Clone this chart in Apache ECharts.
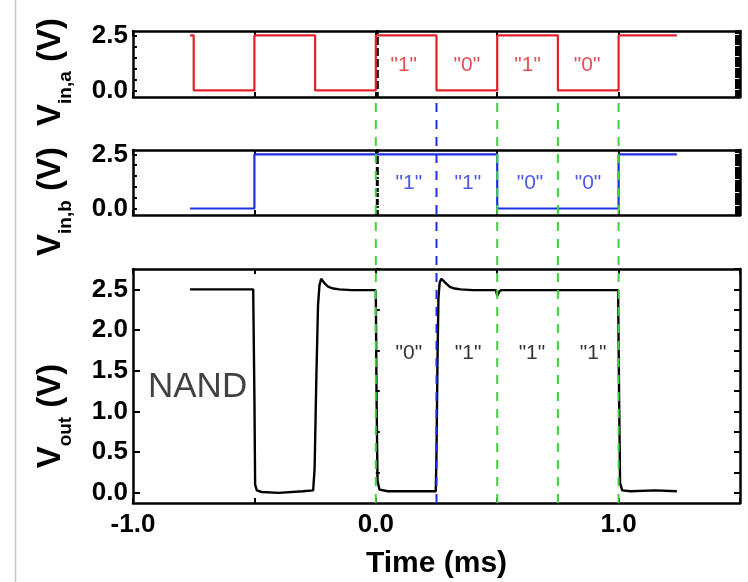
<!DOCTYPE html>
<html><head><meta charset="utf-8">
<script src="https://cdn.jsdelivr.net/npm/echarts@6/dist/echarts.min.js"></script>
<style>html,body{margin:0;padding:0;background:#fff}#c{width:748px;height:582px}</style>
</head><body><div id="c"></div>
<script>
// ---------------- data ----------------
const vinATime = [-0.765, -0.75, -0.75, -0.5, -0.5, -0.25, -0.25, 0.0, 0.0, 0.25, 0.25, 0.5, 0.5, 0.75, 0.75, 1.0, 1.0, 1.24];
const vinAVolt = [2.5, 2.5, 0, 0, 2.5, 2.5, 0, 0, 2.5, 2.5, 0, 0, 2.5, 2.5, 0, 0, 2.5, 2.5];
const vinBTime = [-0.765, -0.5, -0.5, 0.5, 0.5, 1.0, 1.0, 1.24];
const vinBVolt = [0, 0, 2.5, 2.5, 0, 0, 2.5, 2.5];
const voutTime = [-0.765, -0.505, -0.5, -0.497, -0.49, -0.47, -0.4, -0.3, -0.258, -0.252, -0.245, -0.238, -0.232, -0.225, -0.218, -0.21, -0.195, -0.175, -0.15, -0.1, 0.0, 0.003, 0.007, 0.015, 0.05, 0.15, 0.247, 0.25, 0.254, 0.258, 0.263, 0.27, 0.278, 0.29, 0.305, 0.325, 0.35, 0.4, 0.495, 0.5, 0.504, 0.51, 0.52, 0.7, 0.998, 1.002, 1.006, 1.015, 1.05, 1.15, 1.24];
const voutVolt = [2.5, 2.5, 1.2, 0.1, 0.03, 0.01, 0.0, 0.02, 0.03, 0.3, 1.4, 2.3, 2.55, 2.63, 2.62, 2.57, 2.53, 2.51, 2.5, 2.49, 2.49, 1.2, 0.15, 0.04, 0.02, 0.02, 0.02, 0.5, 1.6, 2.4, 2.58, 2.63, 2.61, 2.57, 2.53, 2.51, 2.5, 2.49, 2.49, 2.42, 2.44, 2.48, 2.49, 2.49, 2.49, 1.2, 0.12, 0.03, 0.02, 0.03, 0.02];
const greenDashTimes = [0.0, 0.5, 0.75, 1.0];
const blueDashTimes = [0.25];
const topLabelTimes = [0.115, 0.375, 0.625, 0.87];
const topLabels = ['"1"', '"0"', '"1"', '"0"'];
const midLabelTimes = [0.136, 0.379, 0.635, 0.874];
const midLabels = ['"1"', '"1"', '"0"', '"0"'];
const outLabelTimes = [0.136, 0.38, 0.643, 0.895];
const outLabels = ['"0"', '"1"', '"1"', '"1"'];
const gateName = 'NAND';
const xTickLabels = [-1.0, 0.0, 1.0];
const inTickLabels = [0.0, 2.5];
const outTickLabels = [0.0, 0.5, 1.0, 1.5, 2.0, 2.5];

// ---------------- helpers ----------------
const FONT = '"Liberation Sans", Arial, Helvetica, sans-serif';
const RED = '#e3212b', BLUE = '#1f2ee0', GREEN = '#3fd23f', BLACK = '#000';
const zip = (a, b) => a.map((v, i) => [v, b[i]]);
const axLine = {show: true, onZero: false, lineStyle: {color: BLACK, width: 2.5}};
function range(a, b, s) { const r = []; for (let v = a; v <= b + 1e-9; v += s) r.push(+v.toFixed(4)); return r; }

function xAxes(g, showLabels) {
  const base = {gridIndex: g, type: 'value', min: -1, max: 1.5, interval: 0.5,
    axisLine: axLine, splitLine: {show: false},
    axisTick: {show: true, inside: true, length: 5, lineStyle: {color: BLACK, width: 2}}};
  const bottom = Object.assign({}, base, {position: 'bottom',
    axisLabel: showLabels ? {show: true, customValues: xTickLabels, formatter: v => v.toFixed(1),
      fontFamily: FONT, fontWeight: 'bold', fontSize: 26, color: BLACK, margin: 9} : {show: false}});
  if (showLabels) Object.assign(bottom, {name: 'Time (ms)', nameLocation: 'middle', nameGap: 46,
    nameTextStyle: {fontFamily: FONT, fontWeight: 'bold', fontSize: 30, color: BLACK}});
  const top = Object.assign({}, base, {position: 'top', axisLabel: {show: false}});
  return [bottom, top];
}
function yAxes(g, min, max, labels, major, minor, majLen, minLen, name, padTop) {
  const ts = {color: BLACK, width: 2};
  return [
    {gridIndex: g, type: 'value', min, max, position: 'left', axisLine: axLine, splitLine: {show: false},
     axisTick: {show: true, inside: true, length: majLen, customValues: major, lineStyle: ts},
     axisLabel: {show: true, customValues: labels, formatter: v => v.toFixed(1), fontFamily: FONT,
       fontWeight: 'bold', fontSize: 26, color: BLACK, margin: 5},
     name: name, nameLocation: 'middle', nameGap: 66, nameRotate: 90, nameMoveOverlap: false,
     nameTextStyle: {padding: [0, padTop, 0, 0], rich: {
       v: {fontFamily: FONT, fontWeight: 'bold', fontSize: 33, lineHeight: 33, color: BLACK},
       s: {fontFamily: FONT, fontWeight: 'bold', fontSize: 19, lineHeight: 19, padding: [30, 0, 0, 0], color: BLACK}}}},
    {gridIndex: g, type: 'value', min, max, position: 'left', axisLine: {show: false}, splitLine: {show: false},
     axisTick: {show: true, inside: true, length: minLen, customValues: minor, lineStyle: ts}, axisLabel: {show: false}},
    {gridIndex: g, type: 'value', min, max, position: 'right', axisLine: axLine, splitLine: {show: false},
     axisTick: {show: true, inside: true, length: minLen + 2, customValues: major.concat(minor), lineStyle: ts},
     axisLabel: {show: false}}
  ];
}
function textSeries(xi, yi, times, texts, level, color, size) {
  return {type: 'scatter', xAxisIndex: xi, yAxisIndex: yi, symbolSize: 1, silent: true,
    itemStyle: {color: 'rgba(0,0,0,0)'},
    data: times.map((t, i) => ({value: [t, level], name: texts[i]})),
    label: {show: true, position: 'inside', formatter: p => p.name, fontFamily: FONT, fontSize: size, color: color}, z: 5};
}
function dashSeries(times, color) {
  return times.map(t => ({type: 'line', xAxisIndex: 6, yAxisIndex: 9, symbol: 'none', silent: true, z: 10,
    data: [[t, 0], [t, 1]], lineStyle: {color: color, width: 2, type: [9, 8]}}));
}

const inMajor = range(0, 2.5, 0.5);
const inMinor = range(-0.3, 2.7, 0.1).filter(v => !inMajor.some(m => Math.abs(m - v) < 1e-6));
const outMajor = range(0, 2.5, 0.5);
const outMinor = range(0.25, 2.75, 0.5);

const option = {
  animation: false,
  backgroundColor: '#fff',
  grid: [
    {left: 133, right: 8, top: 31, height: 66},
    {left: 133, right: 8, top: 150, height: 65},
    {left: 133, right: 8, top: 269, height: 234},
    {left: 133, right: 8, top: 97, height: 406}
  ],
  xAxis: [].concat(xAxes(0, false), xAxes(1, false), xAxes(2, true),
    [{gridIndex: 3, type: 'value', min: -1, max: 1.5, show: false}]),
  yAxis: [].concat(
    yAxes(0, -0.3, 2.7, inTickLabels, inMajor, inMinor, 4, 3, '{v|V}{s|in,a}{v| (V)}', 16),
    yAxes(1, -0.3, 2.7, inTickLabels, inMajor, inMinor, 4, 3, '{v|V}{s|in,b}{v| (V)}', 38),
    yAxes(2, -0.125, 2.75, outTickLabels, outMajor, outMinor, 7, 4, '{v|V}{s|out}{v| (V)}', 60),
    [{gridIndex: 3, type: 'value', min: 0, max: 1, show: false}]),
  graphic: [{type: 'line', shape: {x1: 15.5, y1: 0, x2: 15.5, y2: 582}, style: {stroke: '#c8c8c8', lineWidth: 1.5}}],
  series: [
    {type: 'line', xAxisIndex: 0, yAxisIndex: 0, symbol: 'none', data: zip(vinATime, vinAVolt), lineStyle: {color: RED, width: 2.2}},
    {type: 'line', xAxisIndex: 2, yAxisIndex: 3, symbol: 'none', data: zip(vinBTime, vinBVolt), lineStyle: {color: BLUE, width: 2.2}},
    {type: 'line', xAxisIndex: 4, yAxisIndex: 6, symbol: 'none', data: zip(voutTime, voutVolt), lineStyle: {color: BLACK, width: 2.4}},
    textSeries(0, 0, topLabelTimes, topLabels, 1.15, RED, 21),
    textSeries(2, 3, midLabelTimes, midLabels, 1.18, BLUE, 21),
    textSeries(4, 6, outLabelTimes, outLabels, 1.72, BLACK, 21),
    textSeries(4, 6, [-0.734], [gateName], 1.3, '#111', 35)
  ].concat(dashSeries(greenDashTimes, GREEN), dashSeries(blueDashTimes, BLUE))
};
const chart = echarts.init(document.getElementById('c'), null, {renderer: 'canvas'});
chart.setOption(option);
</script></body></html>
